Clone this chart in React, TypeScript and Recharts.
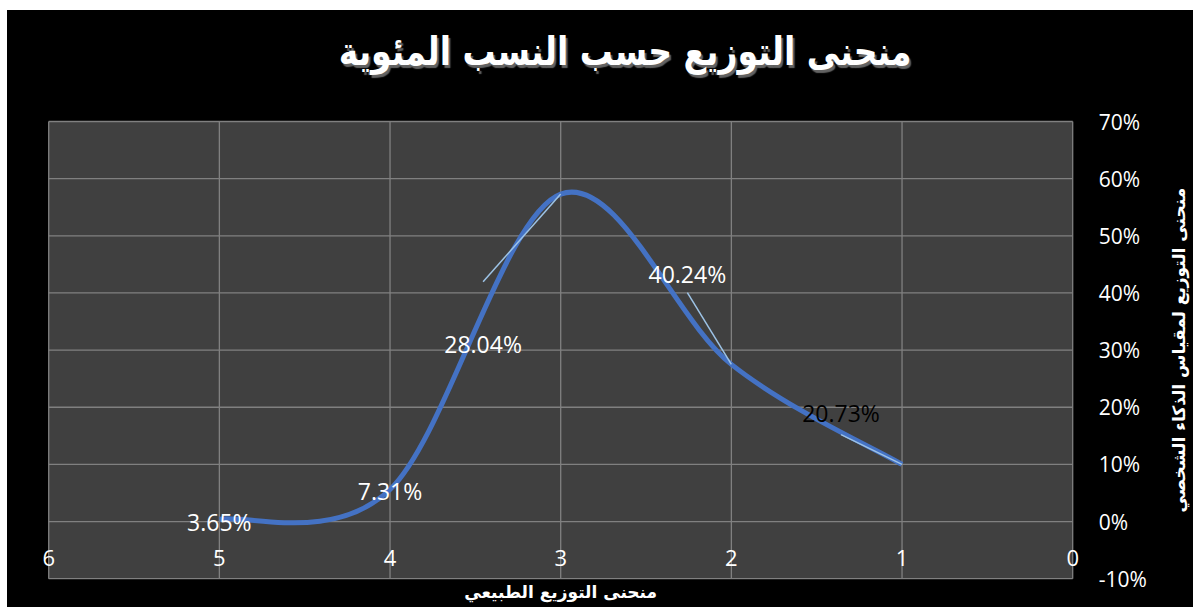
import React from "react";
import { LineChart, Line, XAxis, YAxis, CartesianGrid, LabelList } from "recharts";

const xValues = [5, 4, 3, 2, 1];
const curveValues = [0.004, 0.056, 0.573, 0.275, 0.1];
const labelTexts = ["3.65%", "7.31%", "28.04%", "40.24%", "20.73%"];
const xTicks = [0, 1, 2, 3, 4, 5, 6];
const yTicks = [-0.1, 0, 0.1, 0.2, 0.3, 0.4, 0.5, 0.6, 0.7];
const chartTitle = "منحنى التوزيع حسب النسب المئوية";
const xAxisTitle = "منحنى التوزيع الطبيعي";
const yAxisTitle = "منحنى التوزيع لمقياس الذكاء الشخصي";

const data = xValues.map((x, i) => ({ x, y: curveValues[i], label: labelTexts[i] }));

// label placement (pixel offsets from the point) and leader line ends
const labelOffsets = [
  { dx: 0, dy: 3, lx: null, ly: null, color: "#ffffff" },
  { dx: 0, dy: 1, lx: null, ly: null, color: "#ffffff" },
  { dx: -77.6, dy: 150, lx: -77.6, ly: 87.7, color: "#ffffff" },
  { dx: -44, dy: -90, lx: -44, ly: -71.7, color: "#ffffff" },
  { dx: -61, dy: -51, lx: -61, ly: -29.7, color: "#000000" },
];

// Excel-like smoothing (Catmull-Rom style bezier)
const excelCurve = (context: any) => {
  let pts: number[][] = [];
  return {
    areaStart() {},
    areaEnd() {},
    lineStart() {
      pts = [];
    },
    point(x: number, y: number) {
      pts.push([+x, +y]);
    },
    lineEnd() {
      const n = pts.length;
      if (!n) return;
      context.moveTo(pts[0][0], pts[0][1]);
      for (let i = 0; i < n - 1; i++) {
        const p0 = pts[Math.max(i - 1, 0)];
        const p1 = pts[i];
        const p2 = pts[i + 1];
        const p3 = pts[Math.min(i + 2, n - 1)];
        context.bezierCurveTo(
          p1[0] + (p2[0] - p0[0]) / 6,
          p1[1] + (p2[1] - p0[1]) / 6,
          p2[0] - (p3[0] - p1[0]) / 6,
          p2[1] - (p3[1] - p1[1]) / 6,
          p2[0],
          p2[1]
        );
      }
    },
  };
};

const NUM_FONT = "'Open Sans', sans-serif";
const AR_FONT = "'DejaVu Sans', sans-serif";

const XTick = (props: any) => {
  const { x, y, payload } = props;
  return (
    <text x={x} y={y - 21.5} textAnchor="middle" dominantBaseline="central" fill="#ffffff" fontSize={22} fontFamily={NUM_FONT}>
      {payload.value}
    </text>
  );
};

const YTick = (props: any) => {
  const { x, y, payload } = props;
  return (
    <text x={x} y={y} textAnchor="start" dominantBaseline="central" fill="#ffffff" fontSize={21} fontFamily={NUM_FONT}>
      {`${Math.round(payload.value * 100)}%`}
    </text>
  );
};

const DataLabel = (props: any) => {
  const { x, y, value, index } = props;
  const o = labelOffsets[index];
  return (
    <g>
      {o.lx !== null && (
        <line x1={x} y1={y} x2={x + (o.lx as number)} y2={y + (o.ly as number)} stroke="#9dc3e6" strokeWidth={1.5} />
      )}
      <text x={x + o.dx} y={y + o.dy} textAnchor="middle" dominantBaseline="central" fill={o.color} fontSize={23} fontFamily={NUM_FONT}>
        {value}
      </text>
    </g>
  );
};

const XTitle = (props: any) => {
  const vb = props.viewBox || {};
  return (
    <text x={vb.x + vb.width / 2} y={vb.y + 13} textAnchor="middle" dominantBaseline="central" fill="#ffffff" fontSize={17} fontWeight="bold" fontFamily={AR_FONT} direction="rtl">
      {xAxisTitle}
    </text>
  );
};

const YTitle = (props: any) => {
  const vb = props.viewBox || {};
  const cx = vb.x + 106;
  const cy = vb.y + vb.height / 2;
  return (
    <text x={cx} y={cy} transform={`rotate(-90 ${cx} ${cy})`} textAnchor="middle" dominantBaseline="central" fill="#ffffff" fontSize={17} fontWeight="bold" fontFamily={AR_FONT} direction="rtl">
      {yAxisTitle}
    </text>
  );
};

export default function App() {
  return (
    <div style={{ position: "absolute", left: 7, top: 10, width: 1186, height: 597, background: "#000000" }}>
      <div
        dir="rtl"
        style={{
          position: "absolute",
          left: 218,
          top: 20,
          width: 800,
          textAlign: "center",
          color: "#ffffff",
          fontFamily: AR_FONT,
          fontWeight: "bold",
          fontSize: 33,
          lineHeight: "44px",
          transform: "scaleY(1.2)",
          textShadow: "2px 2px 1px rgba(110,110,110,0.9)",
        }}
      >
        {chartTitle}
      </div>
      <LineChart width={1186} height={597} data={data} margin={{ top: 111.5, right: 0, bottom: 0, left: 41.7 }}>
        <CartesianGrid fill="#404040" stroke="#808080" strokeWidth={1.3} horizontalValues={yTicks} verticalValues={xTicks} />
        <XAxis
          type="number"
          dataKey="x"
          domain={[0, 6]}
          ticks={xTicks}
          reversed
          allowDataOverflow
          tickLine={false}
          axisLine={false}
          tickSize={0}
          tickMargin={0}
          height={28.3}
          tick={<XTick />}
          label={<XTitle />}
          interval={0}
        />
        <YAxis
          orientation="right"
          type="number"
          domain={[-0.1, 0.7]}
          ticks={yTicks}
          allowDataOverflow
          tickLine={false}
          axisLine={false}
          tickSize={0}
          tickMargin={26}
          width={120.3}
          tick={<YTick />}
          label={<YTitle />}
          interval={0}
        />
        <Line
          type={excelCurve as any}
          dataKey="y"
          stroke="#4472c4"
          strokeWidth={5}
          dot={false}
          activeDot={false}
          isAnimationActive={false}
        >
          <LabelList dataKey="label" content={<DataLabel />} />
        </Line>
      </LineChart>
    </div>
  );
}
